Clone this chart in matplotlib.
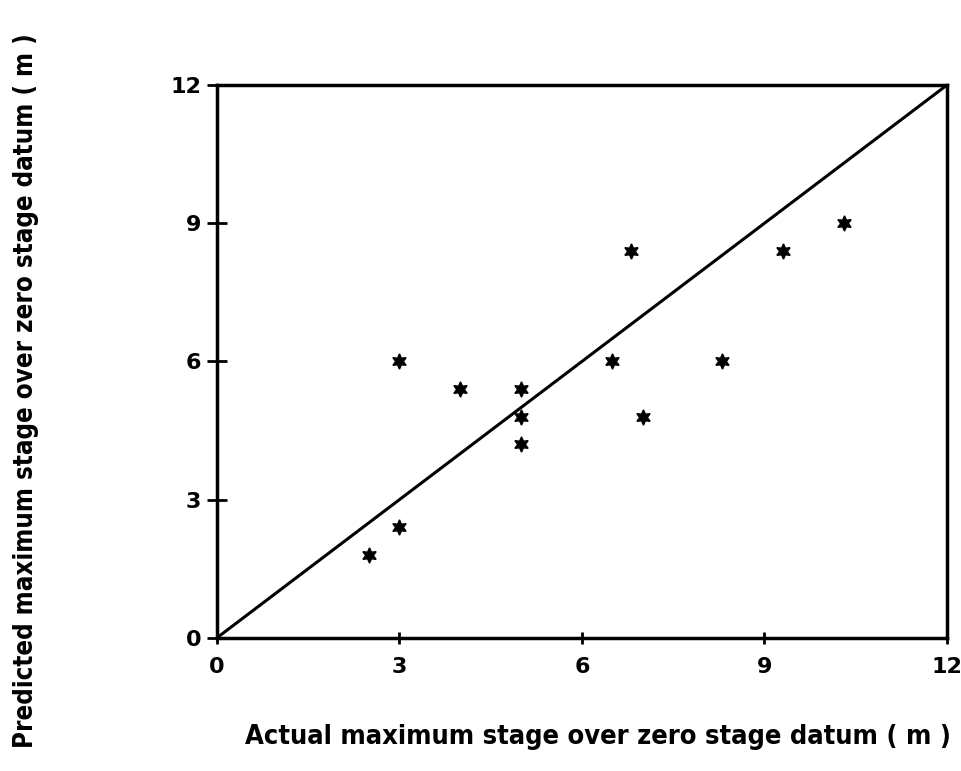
import matplotlib
matplotlib.use("Agg")
import matplotlib.pyplot as plt

# Data
actual = [2.5, 3.0, 3.0, 4.0, 5.0, 5.0, 5.0, 6.5, 6.8, 7.0, 8.3, 9.3, 10.3]
predicted = [1.8, 2.4, 6.0, 5.4, 5.4, 4.8, 4.2, 6.0, 8.4, 4.8, 6.0, 8.4, 9.0]
line_x = [0, 12]
line_y = [0, 12]
ticks = [0, 3, 6, 9, 12]
tick_labels = ["0", "3", "6", "9", "12"]

fig = plt.figure(figsize=(9.61, 7.71), dpi=100)
ax = fig.add_axes([0.2255, 0.1725, 0.760, 0.7173])

ax.plot(line_x, line_y, color="black", lw=2.2)
ax.plot(actual, predicted, linestyle="none", marker=(6, 1, 0),
        markersize=11, color="black")

ax.set_xlim(0, 12)
ax.set_ylim(0, 12)
ax.set_xticks(ticks)
ax.set_yticks(ticks)
ax.set_xticklabels(tick_labels)
ax.set_yticklabels(tick_labels)

for s in ax.spines.values():
    s.set_linewidth(2.5)
    s.set_color("black")

ax.tick_params(axis="x", direction="inout", length=9, width=2, labelsize=16, pad=9)
ax.tick_params(axis="y", direction="inout", length=14, width=2, labelsize=16, pad=4)
for lab in ax.get_xticklabels() + ax.get_yticklabels():
    lab.set_fontweight("bold")
    lab.set_family("DejaVu Sans")

fig.text(0.622, 0.044, "Actual maximum stage over zero stage datum ( m )",
         ha="center", va="center", fontsize=19.5, family="DejaVu Sans",
         stretch="condensed", fontweight="bold")
fig.text(0.027, 0.494, "Predicted maximum stage over zero stage datum ( m )",
         ha="center", va="center", rotation=90, fontsize=18.5,
         family="DejaVu Sans", stretch="condensed", fontweight="bold")

fig.savefig("out.png", dpi=100)
